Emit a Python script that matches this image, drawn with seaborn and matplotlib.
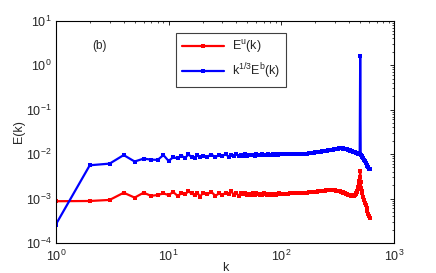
import numpy as np
import pandas as pd
import matplotlib
matplotlib.use("Agg")
import matplotlib.pyplot as plt
import seaborn as sns

# -------------------------------
# Data
# -------------------------------
k_low = list(range(1, 21))
k_mid = list(range(22, 101, 2))
k_high = list(range(105, 476, 5))
k_tail = [480, 485, 490, 495, 500, 505, 510, 515, 520, 530, 540, 550, 560, 570, 580, 590, 600, 610]
k = k_low + k_mid + k_high + k_tail

# E^u(k), units of 1e-3
eu_low = [0.87, 0.88, 0.93, 1.35, 1.05, 1.35, 1.15, 1.2, 1.3, 1.2,
          1.4, 1.15, 1.3, 1.25, 1.45, 1.3, 1.2, 1.35, 1.1, 1.3]
eu_mid = [1.25, 1.4, 1.15, 1.3, 1.2, 1.35, 1.25, 1.45, 1.2, 1.3,
          1.15, 1.35, 1.25, 1.3, 1.2, 1.28, 1.22, 1.32, 1.18, 1.3,
          1.25, 1.2, 1.28, 1.22, 1.3, 1.24, 1.2, 1.27, 1.23, 1.29,
          1.22, 1.26, 1.24, 1.28, 1.22, 1.27, 1.25, 1.3, 1.26, 1.28]
eu_high = [1.28, 1.29, 1.29, 1.3, 1.3, 1.31, 1.31, 1.32, 1.32, 1.33,
           1.34, 1.35, 1.35, 1.36, 1.37, 1.38, 1.39, 1.4, 1.41, 1.42,
           1.43, 1.44, 1.45, 1.46, 1.47, 1.48, 1.49, 1.5, 1.51, 1.52,
           1.52, 1.53, 1.54, 1.55, 1.55, 1.55, 1.55, 1.54, 1.53, 1.52,
           1.51, 1.5, 1.49, 1.48, 1.46, 1.45, 1.43, 1.42, 1.4, 1.38,
           1.36, 1.34, 1.32, 1.3, 1.28, 1.26, 1.24, 1.22, 1.21, 1.2,
           1.19, 1.18, 1.16, 1.15, 1.14, 1.14, 1.14, 1.15, 1.17, 1.2,
           1.25, 1.3, 1.38, 1.45, 1.6]
eu_tail = [1.8, 2.1, 2.5, 3.0, 4.2, 2.4, 1.7, 1.45, 1.3, 1.1,
           0.95, 0.8, 0.7, 0.6, 0.52, 0.45, 0.4, 0.36]
Eu = [v * 1e-3 for v in eu_low + eu_mid + eu_high + eu_tail]

# k^{1/3} E^b(k), units of 1e-2
eb_low = [0.026, 0.56, 0.61, 0.95, 0.68, 0.79, 0.75, 0.74, 0.95, 0.7,
          0.85, 0.8, 0.92, 0.82, 0.98, 0.86, 0.8, 0.95, 0.84, 0.92]
eb_mid = [0.88, 0.97, 0.86, 0.94, 0.9, 1.0, 0.88, 0.96, 0.91, 0.99,
          0.9, 0.95, 0.92, 0.98, 0.91, 0.96, 0.93, 0.97, 0.92, 0.98,
          0.94, 0.96, 0.93, 0.98, 0.95, 0.97, 0.94, 0.99, 0.95, 0.97,
          0.96, 0.99, 0.95, 0.98, 0.97, 0.99, 0.96, 1.0, 0.98, 0.99]
eb_high = [0.99, 0.99, 1.0, 1.0, 1.0, 1.0, 1.0, 1.01, 1.01, 1.01,
           1.02, 1.02, 1.03, 1.03, 1.04, 1.05, 1.06, 1.07, 1.08, 1.09,
           1.1, 1.11, 1.12, 1.13, 1.14, 1.15, 1.16, 1.17, 1.18, 1.19,
           1.2, 1.21, 1.22, 1.23, 1.24, 1.25, 1.26, 1.27, 1.28, 1.29,
           1.3, 1.31, 1.32, 1.33, 1.34, 1.35, 1.35, 1.35, 1.34, 1.34,
           1.33, 1.33, 1.32, 1.31, 1.3, 1.29, 1.27, 1.26, 1.24, 1.23,
           1.21, 1.2, 1.18, 1.17, 1.15, 1.14, 1.12, 1.11, 1.1, 1.09,
           1.08, 1.07, 1.06, 1.05, 1.04]
eb_tail = [1.03, 1.02, 1.01, 1.0, 160.0, 0.97, 0.94, 0.91, 0.87, 0.81,
           0.75, 0.69, 0.63, 0.58, 0.54, 0.5, 0.47, 0.45]
Eb = [v * 1e-2 for v in eb_low + eb_mid + eb_high + eb_tail]

df = pd.DataFrame({"k": k, "Eu": Eu, "Eb": Eb})

# -------------------------------
# Style
# -------------------------------
sns.set_style("white")
plt.rcParams["font.family"] = ["Liberation Sans", "DejaVu Sans"]
plt.rcParams["mathtext.fontset"] = "custom"
plt.rcParams["mathtext.rm"] = "Liberation Sans"
plt.rcParams["mathtext.it"] = "Liberation Sans"
plt.rcParams["mathtext.default"] = "regular"
plt.rcParams["xtick.direction"] = "in"
plt.rcParams["ytick.direction"] = "in"

fig = plt.figure(figsize=(4.36, 2.73), dpi=100)
ax = fig.add_axes([0.128, 0.110, 0.776, 0.814])

sns.lineplot(data=df, x="k", y="Eu", color=(1, 0, 0), marker="s", markersize=3.5,
             markeredgewidth=0, linewidth=1.6, estimator=None, sort=False,
             label=r"E$^{u}$(k)", ax=ax)
sns.lineplot(data=df, x="k", y="Eb", color=(0, 0, 1), marker="s", markersize=3.5,
             markeredgewidth=0, linewidth=1.6, estimator=None, sort=False,
             label=r"k$^{1/3}$E$^{b}$(k)", ax=ax)

ax.set_xscale("log")
ax.set_yscale("log")
ax.set_xlim(1, 1000)
ax.set_ylim(1e-4, 10)
ax.set_xlabel("k", fontsize=9, labelpad=-1)
ax.set_ylabel("E(k)", fontsize=9, labelpad=1)
ax.tick_params(which="both", top=True, right=True, labelsize=9, color="black")
ax.tick_params(axis="x", pad=4)
ax.tick_params(axis="y", pad=3)
ax.tick_params(which="major", length=3, width=0.6)
ax.tick_params(which="minor", length=1.5, width=0.5)
for s in ax.spines.values():
    s.set_color("black")
    s.set_linewidth(0.8)

ax.text(0.13, 0.886, "(b)", transform=ax.transAxes, fontsize=8.5, ha="center", va="center")

leg = ax.legend(loc="upper left", bbox_to_anchor=(0.355, 0.946), borderaxespad=0,
                fontsize=9, fancybox=False, framealpha=1, handlelength=3.4,
                handletextpad=0.6, borderpad=0.45, labelspacing=0.5)
leg.get_frame().set_edgecolor("#404040")
leg.get_frame().set_linewidth(0.8)

fig.savefig("out.png", dpi=100)
